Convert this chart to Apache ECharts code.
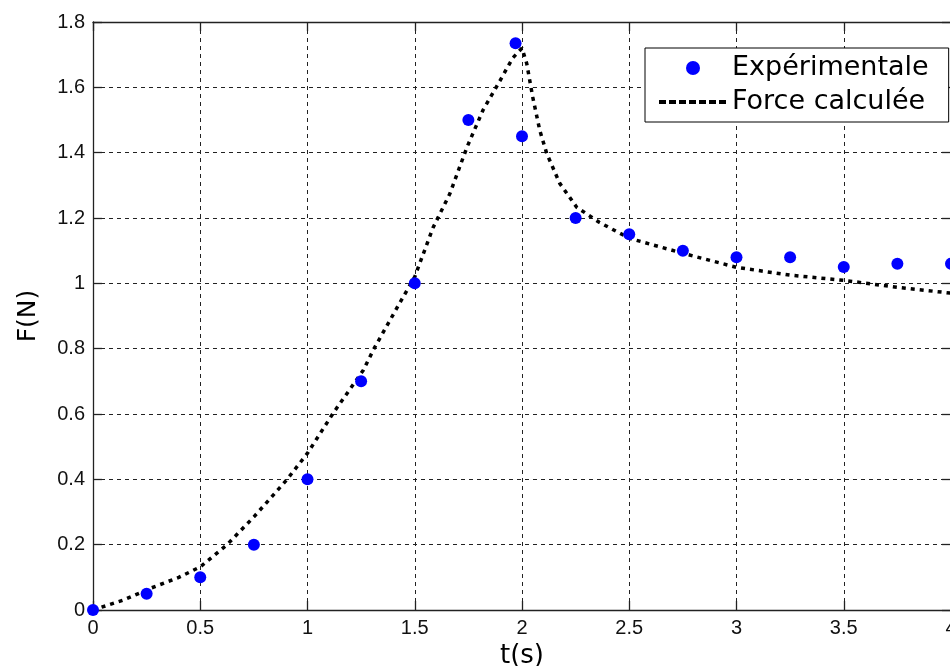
<!DOCTYPE html>
<html>
<head>
<meta charset="utf-8">
<script src="https://cdn.jsdelivr.net/npm/echarts@6/dist/echarts.min.js"></script>
<style>html,body{margin:0;padding:0;background:#fff;}#c{width:950px;height:666px;}</style>
</head>
<body>
<div id="c"></div>
<script>
// Experimental points
const expT = [0, 0.25, 0.5, 0.75, 1, 1.25, 1.5, 1.75, 1.97, 2, 2.25, 2.5, 2.75, 3, 3.25, 3.5, 3.75, 4];
const expF = [0, 0.05, 0.1, 0.2, 0.4, 0.7, 1.0, 1.5, 1.735, 1.45, 1.2, 1.15, 1.1, 1.08, 1.08, 1.05, 1.06, 1.06];
// Computed force curve
const calcT = [0, 0.14, 0.27, 0.4, 0.5, 0.625, 0.75, 0.905, 1.0, 1.12, 1.26, 1.31, 1.43, 1.5, 1.585, 1.664, 1.743, 1.818, 1.897, 1.957, 2.0, 2.022, 2.05, 2.083, 2.115, 2.176, 2.255, 2.36, 2.5, 2.75, 3.0, 3.25, 3.5, 3.75, 4.0];
const calcF = [0, 0.03, 0.067, 0.1, 0.132, 0.2, 0.285, 0.4, 0.48, 0.603, 0.734, 0.8, 0.94, 1.02, 1.17, 1.275, 1.416, 1.53, 1.62, 1.69, 1.72, 1.673, 1.57, 1.468, 1.398, 1.306, 1.233, 1.187, 1.138, 1.092, 1.049, 1.025, 1.009, 0.988, 0.97];
const seriesNames = ['Expérimentale', 'Force calculée'];
const xLabel = 't(s)';
const yLabel = 'F(N)';

const expData = expT.map((t, i) => [t, expF[i]]);
const calcData = calcT.map((t, i) => [t, calcF[i]]);

const chart = echarts.init(document.getElementById('c'), null, {renderer: 'canvas'});
const gridLine = {show: true, lineStyle: {color: '#222', width: 1, type: [4, 4]}};
const axisLine = {show: true, onZero: false, lineStyle: {color: '#222', width: 1.3}};
const tick = {show: true, inside: true, length: 9, lineStyle: {color: '#222', width: 1.3}};
const tickFont = {color: '#111', fontSize: 20, fontFamily: 'Liberation Sans, Arial, sans-serif'};

chart.setOption({
  animation: false,
  backgroundColor: '#fff',
  grid: {left: 93, top: 22, right: -1, bottom: 56, containLabel: false, outerBoundsMode: 'none'},
  xAxis: [{
    type: 'value', min: 0, max: 4, interval: 0.5,
    name: xLabel, nameLocation: 'middle', nameGap: 30,
    nameTextStyle: {color: '#000', fontSize: 26, fontFamily: 'DejaVu Sans, sans-serif'},
    axisLine: axisLine, axisTick: tick,
    axisLabel: Object.assign({margin: 8, hideOverlap: false}, tickFont),
    splitLine: gridLine
  }, {
    type: 'value', min: 0, max: 4, interval: 0.5, position: 'top',
    axisLine: axisLine, axisTick: tick, axisLabel: {show: false}, splitLine: {show: false}
  }],
  yAxis: [{
    type: 'value', min: 0, max: 1.8, interval: 0.2,
    name: yLabel, nameLocation: 'middle', nameGap: 52, nameRotate: 90,
    nameTextStyle: {color: '#000', fontSize: 25, fontFamily: 'DejaVu Sans, sans-serif'},
    axisLine: axisLine, axisTick: tick,
    axisLabel: Object.assign({margin: 8, formatter: v => String(+v.toFixed(1))}, tickFont),
    splitLine: gridLine
  }, {
    type: 'value', min: 0, max: 1.8, interval: 0.2, position: 'right',
    axisLine: axisLine, axisTick: tick, axisLabel: {show: false}, splitLine: {show: false}
  }],
  legend: {
    orient: 'vertical', left: 645, top: 48,
    padding: [5, 20, 5, 12], itemGap: 4,
    itemWidth: 68, itemHeight: 14,
    borderColor: '#000', borderWidth: 1, borderRadius: 0, backgroundColor: '#fff',
    textStyle: {color: '#000', fontSize: 27, lineHeight: 30, fontFamily: 'DejaVu Sans, sans-serif'},
    data: [
      {name: seriesNames[0], icon: 'circle', itemStyle: {color: '#0000ff', opacity: 1}},
      {name: seriesNames[1], itemStyle: {opacity: 0}, lineStyle: {width: 4, color: '#000', type: [7, 3]}}
    ]
  },
  series: [{
    name: seriesNames[1], type: 'line', data: calcData, showSymbol: false, symbol: 'none',
    smooth: false, clip: true, z: 2,
    lineStyle: {color: '#000', width: 3.5, type: [4, 5]},
    itemStyle: {color: '#000'}
  }, {
    name: seriesNames[0], type: 'scatter', data: expData, symbol: 'circle', symbolSize: 12,
    clip: false, z: 3,
    itemStyle: {color: '#0000ff', opacity: 1}
  }]
});
</script>
</body>
</html>
